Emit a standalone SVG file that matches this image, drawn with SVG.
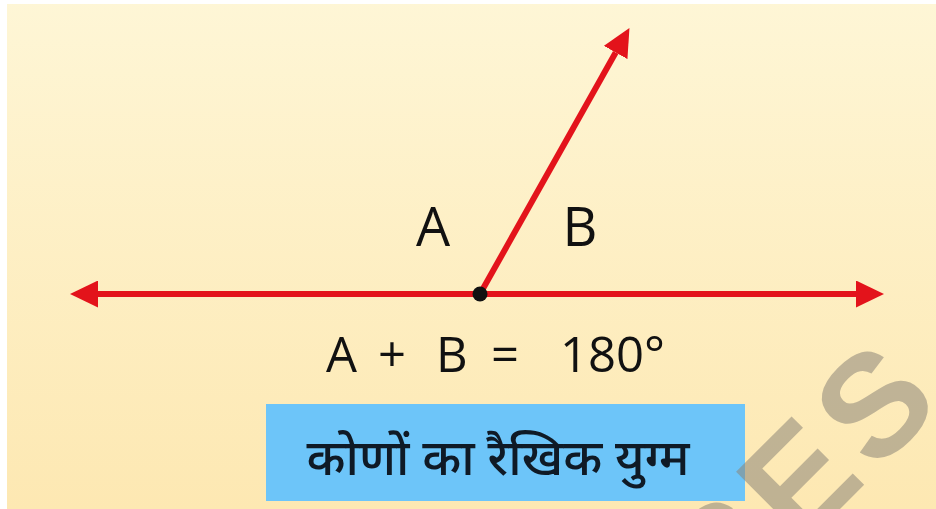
<svg xmlns="http://www.w3.org/2000/svg" width="936" height="509" viewBox="0 0 936 509">
  <defs>
    <linearGradient id="bg" x1="0" y1="0" x2="0" y2="1">
      <stop offset="0" stop-color="#fef6d6"/>
      <stop offset="1" stop-color="#fde8b2"/>
    </linearGradient>
    <marker id="arrow" viewBox="0 0 28 27" refX="0" refY="13.5" markerWidth="28" markerHeight="27" markerUnits="userSpaceOnUse" orient="auto-start-reverse">
      <path d="M0,0 L28,13.5 L0,27 Z" fill="#e3131b"/>
    </marker>
  </defs>
  <style>
    .line { stroke: #e3131b; stroke-width: 6; fill: none; }
    .lbl { font-family: "Open Sans", "Noto Sans", sans-serif; fill: #111111; }
    .hindi { font-family: "Noto Sans Devanagari", "Lohit Devanagari", "Noto Sans", sans-serif; font-weight: 500; fill: #0f1a26; }
    .wm { font-family: "Liberation Sans", Arial, sans-serif; font-weight: bold; fill: #8c8578; fill-opacity: 0.55; }
  </style>

  <rect x="0" y="0" width="936" height="509" fill="url(#bg)"/>
  <rect x="0" y="0" width="936" height="4" fill="#ffffff"/>
  <rect x="0" y="0" width="7" height="509" fill="#ffffff"/>

  <g id="connectors">
    <line class="line" x1="98" y1="294" x2="856" y2="294" marker-start="url(#arrow)" marker-end="url(#arrow)"/>
    <line class="line" x1="480" y1="294" x2="615.7" y2="52.5" stroke-width="5" marker-end="url(#arrow)"/>
  </g>

  <g id="vertex">
    <circle cx="480" cy="294" r="7.5" fill="#111111"/>
  </g>

  <g id="label-A">
    <text class="lbl" x="433" y="246" font-size="54" text-anchor="middle">A</text>
  </g>
  <g id="label-B">
    <text class="lbl" x="580" y="246" font-size="54" text-anchor="middle">B</text>
  </g>

  <g id="equation">
    <text class="lbl" y="372" font-size="49"><tspan x="326">A</tspan><tspan x="378">+</tspan><tspan x="436">B</tspan><tspan x="491">=</tspan><tspan x="560">180°</tspan></text>
  </g>

  <g id="title-box">
    <rect x="266" y="404" width="479" height="97" fill="#6dc5f9"/>
    <text class="hindi" x="498" y="475" font-size="50" text-anchor="middle" textLength="383" lengthAdjust="spacingAndGlyphs">कोणों का रैखिक युग्म</text>
  </g>

  <g id="watermark">
    <text class="wm" x="-107" y="0" font-size="145" letter-spacing="10" transform="translate(800 549) rotate(-45)">SES</text>
  </g>
</svg>
